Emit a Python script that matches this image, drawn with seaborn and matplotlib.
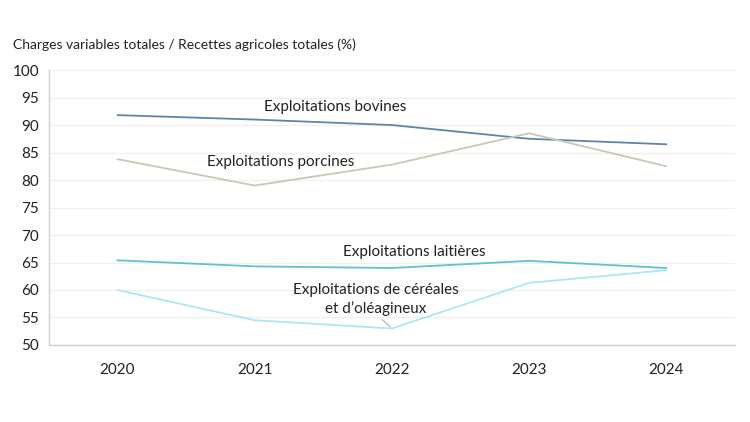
import pandas as pd
import matplotlib.pyplot as plt
import seaborn as sns

years = ['2020', '2021', '2022', '2023', '2024']
bovines = [91.8, 91.0, 90.0, 87.5, 86.5]
porcines = [83.8, 79.0, 82.8, 88.5, 82.5]
laitieres = [65.4, 64.3, 64.0, 65.3, 64.0]
cereales = [60.0, 54.5, 53.0, 61.3, 63.6]

series = {
    'Exploitations bovines': bovines,
    'Exploitations porcines': porcines,
    'Exploitations laitières': laitieres,
    'Exploitations de céréales\net d\u2019oléagineux': cereales,
}
colors = ['#5f84ab', '#c8c8b6', '#5fc2d2', '#aee6f2']

rows = []
for name, vals in series.items():
    for y, v in zip(years, vals):
        rows.append({'year': y, 'value': v, 'serie': name})
df = pd.DataFrame(rows)

sns.set_style('white')
plt.rcParams['font.family'] = ['Lato', 'DejaVu Sans']

fig = plt.figure(figsize=(7.5, 4.22), dpi=100)
ax = fig.add_axes([0.065, 0.1825, 0.915, 0.6515])

sns.lineplot(data=df, x='year', y='value', hue='serie', palette=colors,
             linewidth=1.3, legend=False, ax=ax, sort=False)

ax.set_xlim(-0.5, 4.5)
ax.set_ylim(50, 100)
ax.set_yticks(range(50, 101, 5))
ax.grid(axis='y', color='#f0f0f0', linewidth=1)
ax.set_axisbelow(True)
ax.set_xlabel('')
ax.set_ylabel('')
for s in ['top', 'right']:
    ax.spines[s].set_visible(False)
for s in ['left', 'bottom']:
    ax.spines[s].set_color('#d0d0d0')
    ax.spines[s].set_linewidth(1)
ax.tick_params(axis='both', length=0, labelsize=11, colors='#222222')
ax.tick_params(axis='x', pad=13)
ax.tick_params(axis='y', pad=7)

fig.text(0.018, 0.895, 'Charges variables totales / Recettes agricoles totales (%)',
         fontsize=10, color='#222222', va='center')

lab = dict(fontsize=11, ha='center', va='center', color='#222222')
ax.text(1.59, 93.3, 'Exploitations bovines', **lab)
ax.text(1.19, 83.3, 'Exploitations porcines', **lab)
ax.text(2.16, 66.9, 'Exploitations laitières', **lab)
ax.text(1.88, 58.3, 'Exploitations de céréales\net d\u2019oléagineux',
        linespacing=1.4, **lab)
ax.plot([1.93, 1.99], [54.6, 53.3], color='#b0b0b0', linewidth=0.8)

fig.savefig('out.png', dpi=100)
